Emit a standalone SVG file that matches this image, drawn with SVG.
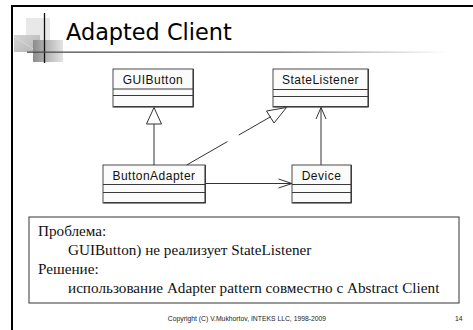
<svg xmlns="http://www.w3.org/2000/svg" width="473" height="330" viewBox="0 0 473 330">
  <style>
    .cls { fill: #fbfbfb; stroke: #4a4a4a; stroke-width: 1; }
    .sep { stroke: #3a3a3a; stroke-width: 1; }
    .shadow { fill: none; stroke: #3c3c3c; stroke-width: 1.2; }
    .cname { font-family: "Liberation Sans", Arial, sans-serif; font-size: 12px; letter-spacing: 0.5px; fill: #111; text-anchor: middle; }
    .edge { fill: none; stroke: #333; stroke-width: 1; }
    .note { font-family: "Liberation Serif", "Times New Roman", serif; font-size: 15.2px; fill: #111; }
    .foot { font-family: "Liberation Sans", Tahoma, sans-serif; font-size: 6.8px; fill: #222; }
  </style>
  <defs>
    <linearGradient id="rule" x1="0" y1="0" x2="1" y2="0">
      <stop offset="0" stop-color="#4a4a4a"/>
      <stop offset="0.6" stop-color="#6a6a6a"/>
      <stop offset="1" stop-color="#ffffff"/>
    </linearGradient>
    <linearGradient id="tileDark" x1="0" y1="0" x2="1" y2="0">
      <stop offset="0" stop-color="#8c8c8c"/>
      <stop offset="1" stop-color="#e4e4e4"/>
    </linearGradient>
    <linearGradient id="tileMid" x1="0" y1="0" x2="1" y2="1">
      <stop offset="0" stop-color="#d4d4d4"/>
      <stop offset="1" stop-color="#b4b4b4"/>
    </linearGradient>
  </defs>

  <rect width="473" height="330" fill="#ffffff"/>

  <!-- slide frame: top and left edges -->
  <path d="M12 330 V6 H473" fill="none" stroke="#000" stroke-width="2"/>

  <!-- title emblem -->
  <g id="emblem">
    <rect x="26" y="18" width="24" height="22" fill="#e8e8e8"/>
    <rect x="14" y="35" width="26" height="17" fill="url(#tileMid)"/>
    <line x1="15" y1="37" x2="38" y2="52" stroke="#e8e8e8" stroke-width="0.8" stroke-dasharray="1.5 1"/>
    <rect x="33" y="40" width="30" height="22" fill="url(#tileDark)"/>
    <line x1="44.5" y1="13" x2="44.5" y2="63" stroke="#111" stroke-width="1.3"/>
  </g>

  <!-- title -->
  <g id="title">
    <rect x="27" y="51.5" width="420" height="1.3" fill="url(#rule)"/>
    <text x="66" y="40" font-family="'DejaVu Sans', Tahoma, sans-serif" font-size="22.4" fill="#000">Adapted Client</text>
  </g>

  <!-- classes -->
  <g id="GUIButton">
    <rect class="cls" x="113" y="69" width="80" height="38"/>
    <path class="shadow" d="M113.5 106.6 H193.4 V69"/>
    <line class="sep" x1="113" y1="89" x2="193" y2="89"/>
    <line class="sep" x1="113" y1="95.5" x2="193" y2="95.5"/>
    <text class="cname" x="153" y="84">GUIButton</text>
  </g>

  <g id="StateListener">
    <rect class="cls" x="273" y="69" width="95" height="38"/>
    <path class="shadow" d="M273.5 106.6 H368.4 V69"/>
    <line class="sep" x1="273" y1="89.5" x2="368" y2="89.5"/>
    <line class="sep" x1="273" y1="96.5" x2="368" y2="96.5"/>
    <text class="cname" x="320.5" y="84">StateListener</text>
  </g>

  <g id="ButtonAdapter">
    <rect class="cls" x="103" y="165" width="102" height="38"/>
    <path class="shadow" d="M103.5 202.6 H205.4 V165"/>
    <line class="sep" x1="103" y1="184.5" x2="205" y2="184.5"/>
    <line class="sep" x1="103" y1="192.5" x2="205" y2="192.5"/>
    <text class="cname" x="154" y="180">ButtonAdapter</text>
  </g>

  <g id="Device">
    <rect class="cls" x="292" y="165" width="59" height="38"/>
    <path class="shadow" d="M292.5 202.6 H351.4 V165"/>
    <line class="sep" x1="292" y1="184.5" x2="351" y2="184.5"/>
    <line class="sep" x1="292" y1="192.5" x2="351" y2="192.5"/>
    <text class="cname" x="321.5" y="180">Device</text>
  </g>

  <!-- connectors -->
  <g id="connectors">
    <!-- ButtonAdapter extends GUIButton -->
    <line class="edge" x1="154" y1="165" x2="154" y2="124"/>
    <polygon class="edge" points="154,107.5 146.5,124 161.5,124" fill="#fff"/>
    <!-- ButtonAdapter realizes StateListener -->
    <line class="edge" x1="186.7" y1="165" x2="271" y2="116.5" stroke-dasharray="47 13"/>
    <polygon class="edge" points="286.5,107.5 266.5,111 274,123" fill="#fff"/>
    <!-- Device uses StateListener -->
    <line class="edge" x1="321" y1="165" x2="321" y2="107.5"/>
    <polyline class="edge" points="316,119 321,107.5 326,119"/>
    <!-- ButtonAdapter uses Device -->
    <line class="edge" x1="205" y1="183.5" x2="292" y2="183.5"/>
    <polyline class="edge" points="278.5,179 292,183.5 278.5,188"/>
  </g>

  <!-- note -->
  <g id="note">
    <rect x="29" y="217" width="430" height="86" fill="#fff" stroke="#555" stroke-width="1.2"/>
    <text class="note" x="38" y="236">Проблема:</text>
    <text class="note" x="68" y="255">GUIButton) не реализует StateListener</text>
    <text class="note" x="38" y="274">Решение:</text>
    <text class="note" x="68" y="293">использование Adapter pattern совместно с Abstract Client</text>
  </g>

  <!-- footer -->
  <g id="footer">
    <text class="foot" x="247" y="321" text-anchor="middle">Copyright (C) V.Mukhortov, INTEKS LLC, 1998-2009</text>
    <text class="foot" x="455" y="321">14</text>
  </g>
</svg>
